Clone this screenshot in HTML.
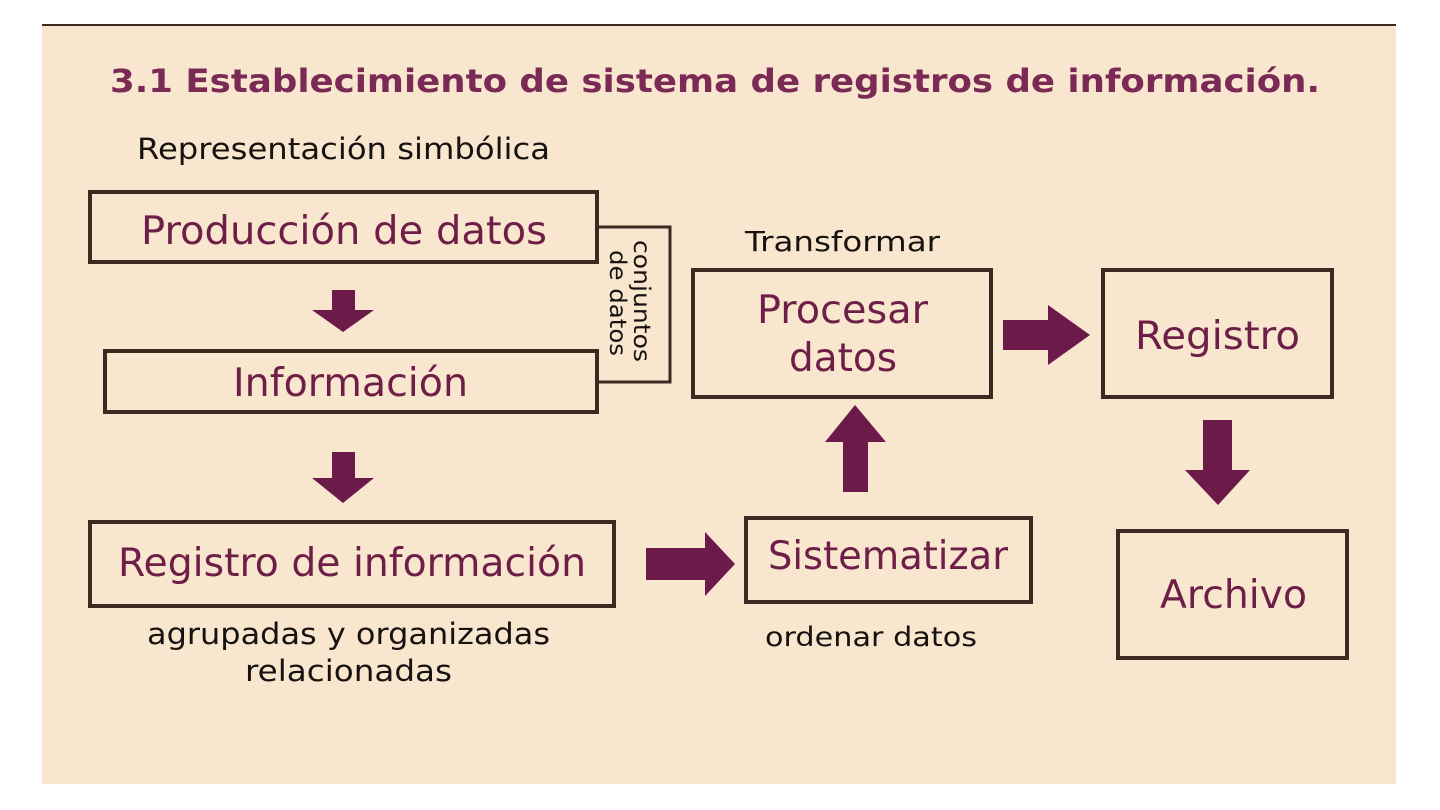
<!DOCTYPE html>
<html><head><meta charset="utf-8"><style>
html,body{margin:0;padding:0;background:#fff;width:1440px;height:810px;overflow:hidden}
svg{display:block}
text{font-family:"DejaVu Sans","Liberation Sans",sans-serif}
.m{fill:#6e1f47}
.b{fill:#161210}
.box{fill:none;stroke:#3b2a20;stroke-width:4}
.a{fill:#6b1a4a}
</style></head><body>
<svg width="1440" height="810" viewBox="0 0 1440 810">
<rect x="42" y="24" width="1354" height="760" fill="#f9e6cf"/>
<line x1="42" y1="25" x2="1396" y2="25" stroke="#3a2a22" stroke-width="2"/>
<text x="110" y="92" font-size="32" font-weight="bold" fill="#7a2a55" textLength="1210" lengthAdjust="spacingAndGlyphs">3.1 Establecimiento de sistema de registros de información.</text>
<text x="137" y="159" font-size="29" class="b" textLength="413" lengthAdjust="spacingAndGlyphs">Representación simbólica</text>

<rect class="box" x="90" y="192" width="507" height="70"/>
<text x="141" y="244" font-size="39" class="m" textLength="406" lengthAdjust="spacingAndGlyphs">Producción de datos</text>
<polyline class="box" points="597,227 670,227 670,382 597,382" style="stroke-width:3"/>
<text transform="translate(634,240) rotate(90)" font-size="23" class="b" textLength="122" lengthAdjust="spacingAndGlyphs">conjuntos</text>
<text transform="translate(610,250) rotate(90)" font-size="23" class="b" textLength="106" lengthAdjust="spacingAndGlyphs">de datos</text>

<polygon class="a" points="332,290 355,290 355,310 374,310 343,332 312,310 332,310"/>
<rect class="box" x="105" y="351" width="492" height="61"/>
<text x="233" y="396" font-size="39" class="m" textLength="235" lengthAdjust="spacingAndGlyphs">Información</text>

<polygon class="a" points="332,452 355,452 355,478 374,478 343,503 312,478 332,478"/>
<rect class="box" x="90" y="522" width="524" height="84"/>
<text x="118" y="576" font-size="39" class="m" textLength="468" lengthAdjust="spacingAndGlyphs">Registro de información</text>
<text x="147" y="644" font-size="29" class="b" textLength="403" lengthAdjust="spacingAndGlyphs">agrupadas y organizadas</text>
<text x="245" y="681" font-size="29" class="b" textLength="207" lengthAdjust="spacingAndGlyphs">relacionadas</text>

<polygon class="a" points="646,548 705,548 705,532 735,564 705,596 705,580 646,580"/>
<rect class="box" x="746" y="518" width="285" height="84"/>
<text x="768" y="569" font-size="39" class="m" textLength="240" lengthAdjust="spacingAndGlyphs">Sistematizar</text>
<text x="765" y="646" font-size="27" class="b" textLength="212" lengthAdjust="spacingAndGlyphs">ordenar datos</text>

<polygon class="a" points="843,492 868,492 868,442 886,442 855,405 825,442 843,442"/>
<text x="745" y="251" font-size="28" class="b" textLength="195" lengthAdjust="spacingAndGlyphs">Transformar</text>
<rect class="box" x="693" y="270" width="298" height="127"/>
<text x="757" y="323" font-size="39" class="m" textLength="171" lengthAdjust="spacingAndGlyphs">Procesar</text>
<text x="789" y="371" font-size="39" class="m" textLength="108" lengthAdjust="spacingAndGlyphs">datos</text>

<polygon class="a" points="1003,320 1048,320 1048,305 1090,335 1048,365 1048,350 1003,350"/>
<rect class="box" x="1103" y="270" width="229" height="127"/>
<text x="1135" y="349" font-size="39" class="m" textLength="165" lengthAdjust="spacingAndGlyphs">Registro</text>

<polygon class="a" points="1203,420 1232,420 1232,470 1250,470 1218,505 1185,470 1203,470"/>
<rect class="box" x="1118" y="531" width="229" height="127"/>
<text x="1160" y="608" font-size="39" class="m" textLength="147" lengthAdjust="spacingAndGlyphs">Archivo</text>
</svg>
</body></html>
